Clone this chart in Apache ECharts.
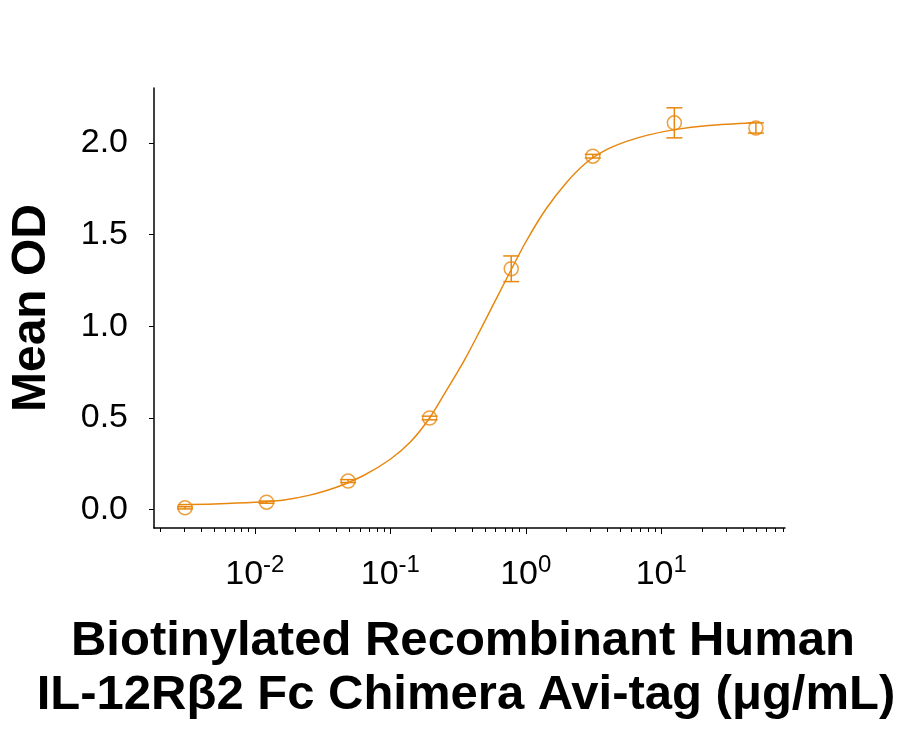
<!DOCTYPE html>
<html>
<head>
    <meta charset="utf-8">
    <title>Mean OD vs concentration</title>
    <script src="https://cdn.jsdelivr.net/npm/echarts@6.0.0/dist/echarts.min.js"></script>
    <style>
        body { margin: 0; background: #fff; }
        #main { width: 907px; height: 729px; }
    </style>
</head>
<body>
<div id="main"></div>
<script type="text/javascript">
    // measured points (ug/mL, mean OD, SD)
    var concs  = [0.00305, 0.0122, 0.0488, 0.195, 0.781, 3.125, 12.5, 50];
    var meanOD = [0.010, 0.041, 0.156, 0.500, 1.314, 1.928, 2.110, 2.082];
    var sdOD   = [0.006, 0.006, 0.008, 0.010, 0.070, 0.010, 0.082, 0.028];

    // fitted curve
    var fitX = [0.0027, 0.005, 0.01, 0.016, 0.025, 0.04, 0.063, 0.1, 0.141, 0.195, 0.25, 0.355,
                0.5, 0.71, 1.0, 1.41, 2.0, 2.82, 3.98, 5.62, 7.94, 12.6, 22.4, 47.9];
    var fitY = [0.027, 0.031, 0.040, 0.052, 0.078, 0.122, 0.185, 0.275, 0.37, 0.50, 0.63, 0.82,
                1.03, 1.25, 1.46, 1.64, 1.785, 1.895, 1.965, 2.01, 2.043, 2.073, 2.095, 2.11];

    // tick positions
    var yTicks  = [0, 0.5, 1.0, 1.5, 2.0];
    var xMajor  = [0.01, 0.1, 1, 10];
    var xMinor  = [0.002, 0.003, 0.004, 0.005, 0.006, 0.007, 0.008, 0.009,
                   0.02, 0.03, 0.04, 0.05, 0.06, 0.07, 0.08, 0.09,
                   0.2, 0.3, 0.4, 0.5, 0.6, 0.7, 0.8, 0.9,
                   2, 3, 4, 5, 6, 7, 8, 9,
                   20, 30, 40, 50, 60, 70, 80];

    var orange = '#E8870E';
    var font = 'Liberation Sans, Arial, sans-serif';
    var xMin = 0.0018, xMax = 82;

    var myChart = echarts.init(document.getElementById('main'));

    var pts = [], errs = [], fit = [];
    for (var i = 0; i < concs.length; i++) {
        pts.push([concs[i], meanOD[i]]);
        errs.push([concs[i], meanOD[i] - sdOD[i], meanOD[i] + sdOD[i]]);
    }
    for (var j = 0; j < fitX.length; j++) fit.push([fitX[j], fitY[j]]);

    // error bar with caps
    function renderErr(params, api) {
        var x = api.value(0);
        var top = api.coord([x, api.value(2)]);
        var bot = api.coord([x, api.value(1)]);
        var w = 8;
        var st = { stroke: orange, lineWidth: 1.5 };
        return {
            type: 'group',
            children: [
                { type: 'line', shape: { x1: top[0], y1: top[1], x2: bot[0], y2: bot[1] }, style: st },
                { type: 'line', shape: { x1: top[0] - w, y1: top[1], x2: top[0] + w, y2: top[1] }, style: st },
                { type: 'line', shape: { x1: bot[0] - w, y1: bot[1], x2: bot[0] + w, y2: bot[1] }, style: st }
            ]
        };
    }

    // an x axis that only draws ticks
    function tickAxisX(vals, len) {
        return {
            type: 'log', logBase: 10, min: xMin, max: xMax, position: 'bottom',
            axisLine: { show: false, onZero: false },
            axisTick: { show: true, length: len, customValues: vals, lineStyle: { color: '#000', width: 1 } },
            axisLabel: { show: false },
            splitLine: { show: false }
        };
    }

    var option = {
        animation: false,
        backgroundColor: '#fff',
        grid: { left: 154, top: 88, width: 631, height: 440, containLabel: false },
        xAxis: [{
            type: 'log',
            logBase: 10,
            min: xMin,
            max: xMax,
            position: 'bottom',
            axisLine: { show: true, onZero: false, lineStyle: { color: '#000', width: 1.5 } },
            axisTick: { show: false },
            axisLabel: {
                customValues: xMajor,
                margin: 25,
                formatter: function (v) {
                    return '{b|10}{s|' + Math.round(Math.log10(v)) + '}';
                },
                rich: {
                    b: { fontSize: 34, fontFamily: font, color: '#000', lineHeight: 44 },
                    s: { fontSize: 24, fontFamily: font, color: '#000', lineHeight: 24, verticalAlign: 'top' }
                }
            },
            splitLine: { show: false }
        },
        tickAxisX(xMajor, 6),
        tickAxisX(xMinor, 4)],
        yAxis: [{
            type: 'value',
            min: -0.1,
            max: 2.3,
            axisLine: { show: true, onZero: false, lineStyle: { color: '#000', width: 1.5 } },
            axisTick: { show: false },
            axisLabel: {
                customValues: yTicks,
                margin: 26,
                fontSize: 34,
                fontFamily: font,
                color: '#000',
                formatter: function (v) { return v.toFixed(1); }
            },
            splitLine: { show: false }
        }, {
            // ticks only
            type: 'value',
            min: -0.1,
            max: 2.3,
            position: 'left',
            axisLine: { show: false, onZero: false },
            axisTick: { show: true, length: 5, customValues: yTicks, lineStyle: { color: '#000', width: 1 } },
            axisLabel: { show: false },
            splitLine: { show: false }
        }],
        graphic: [
            {
                type: 'text', x: 32, y: 308, rotation: Math.PI / 2,
                style: { text: 'Mean OD', font: 'bold 48px ' + font, fill: '#000',
                         textAlign: 'center', textVerticalAlign: 'middle' }
            },
            {
                type: 'text', x: 463, y: 641,
                style: { text: 'Biotinylated Recombinant Human', font: 'bold 49px ' + font, fill: '#000',
                         textAlign: 'center', textVerticalAlign: 'middle' }
            },
            {
                type: 'text', x: 466, y: 695,
                style: { text: 'IL-12R\u03b22 Fc Chimera Avi-tag (\u03bcg/mL)', font: 'bold 49px ' + font, fill: '#000',
                         textAlign: 'center', textVerticalAlign: 'middle' }
            }
        ],
        series: [
            {
                name: 'fit',
                type: 'line',
                data: fit,
                smooth: 0.3,
                showSymbol: false,
                lineStyle: { color: orange, width: 1.5 },
                z: 2
            },
            {
                name: 'sd',
                type: 'custom',
                data: errs,
                encode: { x: 0, y: [1, 2] },
                renderItem: renderErr,
                z: 3
            },
            {
                name: 'mean',
                type: 'scatter',
                data: pts,
                symbol: 'circle',
                symbolSize: 14,
                itemStyle: { color: 'rgba(0,0,0,0)', borderColor: orange, borderWidth: 1.5 },
                z: 4
            }
        ]
    };

    myChart.setOption(option);
</script>
</body>
</html>
